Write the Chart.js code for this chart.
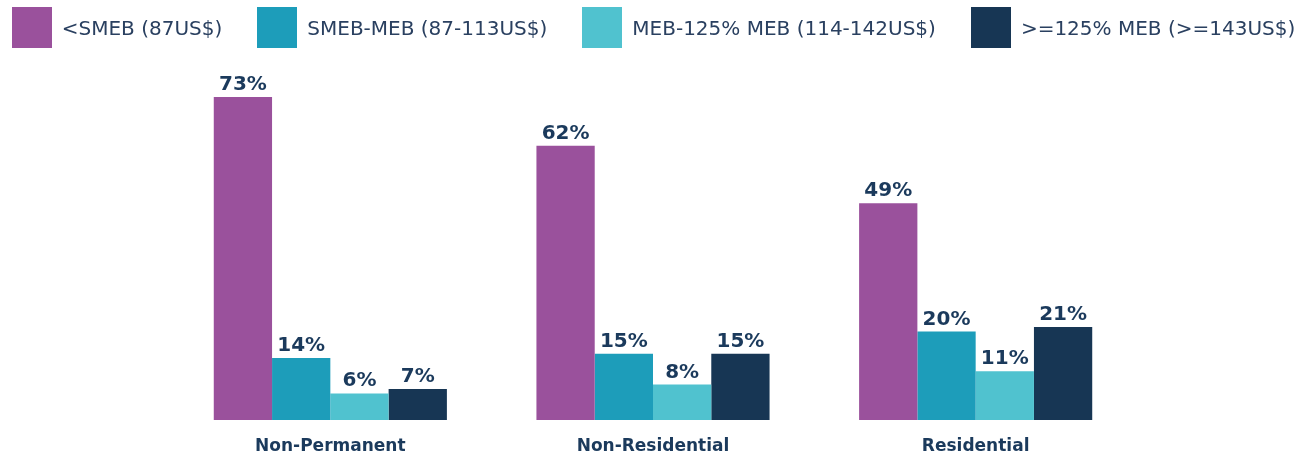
<!DOCTYPE html>
<html>
<head>
<meta charset="utf-8">
<script src="https://cdn.jsdelivr.net/npm/chart.js@4"></script>
<style>
  body { margin: 0; background: #fff; }
  #wrap { position: relative; width: 1307px; height: 457px; }
  #legend {
    position: absolute; left: 0; top: 7px; width: 1307px;
    display: flex; justify-content: center; gap: 35px;
    font-family: "DejaVu Sans", sans-serif; font-size: 20px; color: #2a4060;
  }
  .item { display: flex; align-items: center; gap: 10px; }
  .box { width: 40px; height: 41px; }
</style>
</head>
<body>
<div id="wrap">
  <div id="legend"></div>
  <canvas id="chart"></canvas>
</div>
<script>
// categories and series
const categories = ['Non-Permanent', 'Non-Residential', 'Residential'];
const seriesNames = ['<SMEB (87US$)', 'SMEB-MEB (87-113US$)', 'MEB-125% MEB (114-142US$)', '>=125% MEB (>=143US$)'];
const seriesColors = ['#9a519c', '#1d9dba', '#50c2cf', '#173654'];
const smeb = [73, 62, 49];
const smebMeb = [14, 15, 20];
const meb125 = [6, 8, 11];
const above125 = [7, 15, 21];

const values = [smeb, smebMeb, meb125, above125];
const textColor = '#1b3a5c';

// html legend, built from the same arrays
const legend = document.getElementById('legend');
seriesNames.forEach(function (name, i) {
  const item = document.createElement('div');
  item.className = 'item';
  item.innerHTML = '<div class="box" style="background:' + seriesColors[i] + '"></div><span></span>';
  item.querySelector('span').textContent = name;
  legend.appendChild(item);
});

// draw the % value above each bar
const valueLabels = {
  id: 'valueLabels',
  afterDatasetsDraw(chart) {
    const ctx = chart.ctx;
    ctx.save();
    ctx.font = 'bold 20px "DejaVu Sans", sans-serif';
    ctx.fillStyle = textColor;
    ctx.textAlign = 'center';
    ctx.textBaseline = 'alphabetic';
    chart.data.datasets.forEach(function (ds, i) {
      chart.getDatasetMeta(i).data.forEach(function (bar, j) {
        ctx.fillText(ds.data[j] + '%', bar.x, bar.y - 7);
      });
    });
    ctx.restore();
  }
};

new Chart(document.getElementById('chart'), {
  type: 'bar',
  data: {
    labels: categories,
    datasets: seriesNames.map(function (name, i) {
      return {
        label: name,
        data: values[i],
        backgroundColor: seriesColors[i],
        borderWidth: 0
      };
    })
  },
  options: {
    responsive: true,
    maintainAspectRatio: false,
    animation: false,
    layout: { padding: { top: 66, left: 169, right: 170, bottom: 0 } },
    plugins: {
      legend: { display: false },
      tooltip: { enabled: false }
    },
    datasets: {
      bar: { barPercentage: 1, categoryPercentage: 0.7225 }
    },
    scales: {
      x: {
        grid: { display: false },
        border: { display: false },
        afterFit: function (scale) { scale.height = 37; },
        ticks: {
          padding: 8,
          color: textColor,
          font: { family: '"DejaVu Sans", sans-serif', size: 17, weight: 'bold' }
        }
      },
      y: {
        display: false,
        min: 0,
        max: 80
      }
    }
  },
  plugins: [valueLabels]
});
</script>
</body>
</html>
